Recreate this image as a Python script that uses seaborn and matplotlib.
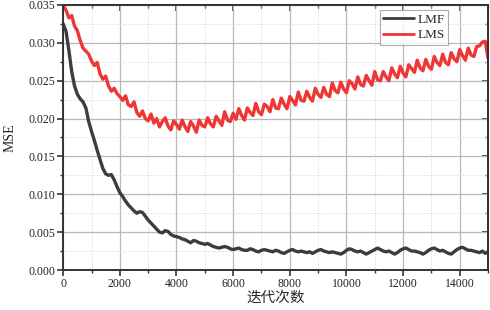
import numpy as np
import pandas as pd
import matplotlib
matplotlib.use("Agg")
import matplotlib.pyplot as plt
from matplotlib.ticker import MultipleLocator, FormatStrFormatter
import seaborn as sns

iterations = list(range(0, 15001, 100))

lms = [
    0.0350, 0.0343, 0.0333, 0.0336, 0.0322, 0.0316, 0.0303, 0.0293, 0.0289, 0.0285,
    0.0276, 0.0270, 0.0274, 0.0259, 0.0252, 0.0256, 0.0243, 0.0236, 0.0240, 0.0233,
    0.0229, 0.0224, 0.0230, 0.0218, 0.0216, 0.0222, 0.0208, 0.0203, 0.0210, 0.0200,
    0.0197, 0.0206, 0.0194, 0.0200, 0.0189, 0.0196, 0.0201, 0.0190, 0.0185, 0.0197,
    0.0192, 0.0186, 0.0198, 0.0189, 0.0183, 0.0196, 0.0190, 0.0182, 0.0198, 0.0191,
    0.0189, 0.0201, 0.0193, 0.0189, 0.0203, 0.0197, 0.0191, 0.0209, 0.0198, 0.0196,
    0.0207, 0.0199, 0.0213, 0.0204, 0.0198, 0.0214, 0.0208, 0.0204, 0.0220, 0.0209,
    0.0205, 0.0219, 0.0216, 0.0209, 0.0225, 0.0214, 0.0213, 0.0227, 0.0219, 0.0213,
    0.0229, 0.0224, 0.0218, 0.0235, 0.0224, 0.0223, 0.0236, 0.0228, 0.0223, 0.0240,
    0.0232, 0.0228, 0.0241, 0.0232, 0.0229, 0.0247, 0.0237, 0.0234, 0.0248, 0.0239,
    0.0234, 0.0250, 0.0246, 0.0239, 0.0255, 0.0245, 0.0243, 0.0257, 0.0250, 0.0244,
    0.0262, 0.0251, 0.0250, 0.0262, 0.0255, 0.0250, 0.0267, 0.0259, 0.0254, 0.0269,
    0.0260, 0.0255, 0.0271, 0.0266, 0.0261, 0.0277, 0.0267, 0.0263, 0.0278, 0.0269,
    0.0265, 0.0282, 0.0274, 0.0270, 0.0285, 0.0274, 0.0271, 0.0287, 0.0279, 0.0275,
    0.0291, 0.0283, 0.0277, 0.0293, 0.0284, 0.0282, 0.0295, 0.0296, 0.0301, 0.0302,
    0.0280,
]

lmf = [
    0.0325, 0.0315, 0.0290, 0.0262, 0.0243, 0.0232, 0.0226, 0.0222, 0.0214, 0.0196,
    0.0183, 0.0171, 0.0158, 0.0146, 0.0134, 0.0127, 0.0125, 0.0126, 0.0119, 0.0110,
    0.0102, 0.0097, 0.0091, 0.0086, 0.0082, 0.0078, 0.0075, 0.0077, 0.0076, 0.0071,
    0.0066, 0.0062, 0.0058, 0.0054, 0.0050, 0.0049, 0.0052, 0.0051, 0.0047, 0.0045,
    0.0044, 0.0043, 0.0041, 0.0040, 0.0038, 0.0036, 0.0039, 0.0038, 0.0036, 0.0035,
    0.0034, 0.0035, 0.0033, 0.0031, 0.0030, 0.0029, 0.0030, 0.0031, 0.0030, 0.0028,
    0.0027, 0.0028, 0.0029, 0.0027, 0.0026, 0.0026, 0.0028, 0.0027, 0.0025, 0.0024,
    0.0026, 0.0027, 0.0026, 0.0025, 0.0024, 0.0026, 0.0025, 0.0023, 0.0022, 0.0024,
    0.0026, 0.0027, 0.0025, 0.0024, 0.0025, 0.0024, 0.0023, 0.0024, 0.0022, 0.0024,
    0.0026, 0.0027, 0.0025, 0.0024, 0.0023, 0.0024, 0.0023, 0.0022, 0.0021, 0.0023,
    0.0026, 0.0028, 0.0027, 0.0025, 0.0024, 0.0025, 0.0023, 0.0021, 0.0023, 0.0025,
    0.0027, 0.0029, 0.0027, 0.0025, 0.0024, 0.0025, 0.0023, 0.0021, 0.0023, 0.0026,
    0.0028, 0.0029, 0.0027, 0.0025, 0.0025, 0.0024, 0.0023, 0.0021, 0.0023, 0.0026,
    0.0028, 0.0029, 0.0027, 0.0025, 0.0026, 0.0024, 0.0022, 0.0021, 0.0024, 0.0027,
    0.0029, 0.0030, 0.0028, 0.0026, 0.0026, 0.0025, 0.0024, 0.0023, 0.0025, 0.0022,
    0.0024,
]

series_names = ["LMF", "LMS"]
series_colors = ["#3c3c3c", "#f03535"]

df = pd.DataFrame({
    "iter": iterations * 2,
    "mse": lmf + lms,
    "algo": ["LMF"] * len(lmf) + ["LMS"] * len(lms),
})

sns.set_theme(style="white")
plt.rcParams["font.family"] = ["Liberation Serif", "Noto Sans CJK SC"]
plt.rcParams["axes.unicode_minus"] = False

fig = plt.figure(figsize=(4.9, 3.1), dpi=100)
ax = fig.add_axes([0.129, 0.129, 0.867, 0.855])

sns.lineplot(data=df, x="iter", y="mse", hue="algo", hue_order=series_names,
             palette=series_colors, linewidth=2.4, ax=ax, legend=True)

ax.set_xlim(0, 15000)
ax.set_ylim(0, 0.035)
ax.xaxis.set_major_locator(MultipleLocator(2000))
ax.xaxis.set_minor_locator(MultipleLocator(1000))
ax.yaxis.set_major_locator(MultipleLocator(0.005))
ax.yaxis.set_minor_locator(MultipleLocator(0.0025))
ax.yaxis.set_major_formatter(FormatStrFormatter("%.3f"))

ax.grid(which="major", color="#b8b8b8", linewidth=0.9, linestyle="-")
ax.grid(which="minor", color="#d4d4d4", linewidth=0.7, linestyle=":")
ax.set_axisbelow(True)

for s in ax.spines.values():
    s.set_visible(True)
    s.set_color("#333333")
    s.set_linewidth(1.4)

# bottom/left ticks outward
ax.tick_params(which="both", direction="out", bottom=True, left=True, color="#333333")
ax.tick_params(which="major", length=4, width=1.2, labelsize=8.5, labelcolor="#222222", pad=2)
ax.tick_params(which="minor", length=2.5, width=1.0)

# top/right ticks inward (mirrored axes)
axt = ax.secondary_xaxis("top")
axt.xaxis.set_major_locator(MultipleLocator(2000))
axt.xaxis.set_minor_locator(MultipleLocator(1000))
axt.tick_params(which="both", direction="in", labeltop=False, color="#333333")
axt.tick_params(which="major", length=4, width=1.2)
axt.tick_params(which="minor", length=2.5, width=1.0)
axt.spines["top"].set_linewidth(1.4)
axt.spines["top"].set_color("#333333")
axr = ax.secondary_yaxis("right")
axr.yaxis.set_major_locator(MultipleLocator(0.005))
axr.yaxis.set_minor_locator(MultipleLocator(0.0025))
axr.tick_params(which="both", direction="in", labelright=False, color="#333333")
axr.tick_params(which="major", length=4, width=1.2)
axr.tick_params(which="minor", length=2.5, width=1.0)
axr.spines["right"].set_linewidth(1.4)
axr.spines["right"].set_color("#333333")

ax.set_xlabel("迭代次数", fontsize=10.5, family=["Noto Sans CJK SC", "DejaVu Sans"], labelpad=0)
ax.set_ylabel("MSE", fontsize=10, labelpad=8)

leg = ax.legend(loc="upper right", bbox_to_anchor=(0.912, 0.99), frameon=True,
                fancybox=False, edgecolor="#999999", fontsize=9.5, handlelength=2.3,
                borderpad=0.25, labelspacing=0.25, handletextpad=0.3,
                borderaxespad=0.2)
leg.get_frame().set_linewidth(0.8)
for line in leg.get_lines():
    line.set_linewidth(2.0)

fig.savefig("out.png", dpi=100)
